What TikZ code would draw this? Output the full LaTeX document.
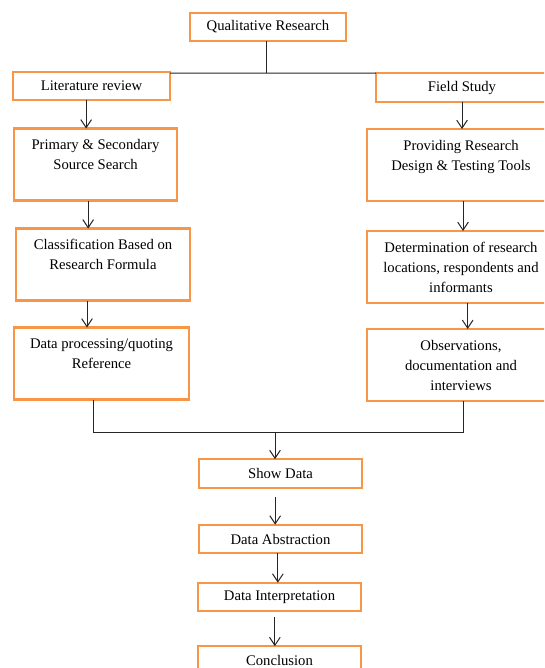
\documentclass[tikz,border=0pt]{standalone}
\usepackage{fontspec}
\setmainfont{Liberation Serif}
\usetikzlibrary{arrows.meta}
\definecolor{boxorange}{HTML}{F79646}

\begin{document}
\begin{tikzpicture}[x=0.75pt,y=-0.75pt,inner sep=0pt,outer sep=0pt,
font=\fontsize{11}{15}\selectfont,
flatbox/.style={draw=boxorange,line width=1.6pt,rectangle,minimum width=#1,minimum height=21.5pt,align=flush center},
tallbox/.style={draw=boxorange,line width=1.6pt,rectangle,text width=#1,align=flush center,text height=16pt,text depth=38pt},
link/.style={draw=black!85,line width=0.75pt},
arr/.style={link,-{Straight Barb[length=6pt,width=8pt]}}]

\useasboundingbox (0,0) rectangle (544,668);
\clip (0,0) rectangle (544,668);

\draw (268,27) node[flatbox=117pt] (qual) {Qualitative Research};
\draw (91.5,86) node[flatbox=118pt] (lit) {Literature review};
\draw (462,87.5) node[flatbox=129pt] (field) {Field Study};

\draw (95.5,164.5) node[tallbox=122pt] (prim) {Primary \& Secondary\\Source Search};
\draw (103,264.5) node[tallbox=130.5pt] (class) {Classification Based on\\Research Formula};
\draw (101.5,363.5) node[tallbox=131pt] (dproc) {Data processing/quoting\\Reference};

\draw (461,165) node[tallbox=141pt] (prov) {Providing Research\\Design \& Testing Tools};
\draw (461,267) node[tallbox=141pt] (det) {Determination of research\\locations, respondents and\\informants};
\draw (461,365) node[tallbox=141pt] (obs) {Observations,\\documentation and\\interviews};

\draw (280.5,473.5) node[flatbox=122pt] (show) {Show Data};
\draw (280.5,539) node[flatbox=122pt] (abs) {Data Abstraction};
\draw (279.5,597) node[flatbox=122pt] (interp) {Data Interpretation};
\draw (279.5,660.5) node[flatbox=122pt] (concl) {Conclusion};

\coordinate (split) at (266,73);
\coordinate (merge) at (275,432);

% split into the two branches
\draw[link] (qual.south -| split) -- (split);
\draw[link] (lit.east |- split) -- (field.north west);

% literature branch
\draw[arr] ([xshift=-4pt]lit.south) -- ([xshift=-4pt]lit.south |- prim.north);
\draw[arr] ([xshift=-5.5pt]prim.south) -- ([xshift=-5.5pt]prim.south |- class.north);
\draw[arr] ([xshift=-12pt]class.south) -- ([xshift=-12pt]class.south |- dproc.north);

% field branch
\draw[arr] (field.south) -- (field.south |- prov.north);
\draw[arr] ([xshift=1.5pt]prov.south) -- ([xshift=1.5pt]prov.south |- det.north);
\draw[arr] ([xshift=5pt]det.south) -- ([xshift=5pt]det.south |- obs.north);

% join and final steps
\draw[link] ([xshift=-6pt]dproc.south) |- ([xshift=1.5pt]obs.south |- merge) -- ([xshift=1.5pt]obs.south);
\draw[arr] (merge) -- (merge |- show.north);
\draw[arr] ([xshift=-4pt,yshift=-7pt]show.south) -- ([xshift=-4pt]show.south |- abs.north);
\draw[arr] ([xshift=-2pt]abs.south) -- ([xshift=-2pt]abs.south |- interp.north);
\draw[arr] ([xshift=-3.5pt,yshift=-4.5pt]interp.south) -- ([xshift=-3.5pt]interp.south |- concl.north);

\end{tikzpicture}
\end{document}
